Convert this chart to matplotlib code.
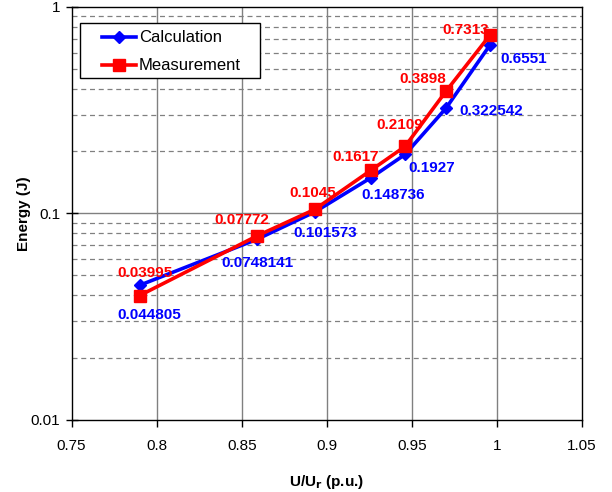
import matplotlib
matplotlib.use("Agg")
import matplotlib.pyplot as plt
from matplotlib.ticker import FixedLocator, NullFormatter
from matplotlib.lines import Line2D
from matplotlib.patches import Rectangle

plt.rcParams['font.family'] = ['Liberation Sans', 'DejaVu Sans']

x_vals = [0.790, 0.859, 0.893, 0.926, 0.946, 0.970, 0.996]
calc = [0.044805, 0.0748141, 0.101573, 0.148736, 0.1927, 0.322542, 0.6551]
meas = [0.03995, 0.07772, 0.1045, 0.1617, 0.2109, 0.3898, 0.7313]
calc_labels = ["0.044805", "0.0748141", "0.101573", "0.148736", "0.1927", "0.322542", "0.6551"]
meas_labels = ["0.03995", "0.07772", "0.1045", "0.1617", "0.2109", "0.3898", "0.7313"]
series_names = ["Calculation", "Measurement"]
x_ticks = [0.75, 0.8, 0.85, 0.9, 0.95, 1.0, 1.05]
x_tick_labels = ["0.75", "0.8", "0.85", "0.9", "0.95", "1", "1.05"]
y_ticks = [0.01, 0.1, 1]
y_tick_labels = ["0.01", "0.1", "1"]

# label offsets in pixels (dx, dy; dy positive = down)
calc_off = [(10, 30), (0, 24), (10, 21), (22, 17), (27, 14), (45, 3), (34, 14)]
meas_off = [(5, -23), (-15, -16), (-2, -16), (-15, -13), (-5, -21), (-23, -12), (-24, -5)]

W, H = 612, 492
fig = plt.figure(figsize=(W / 100, H / 100), dpi=100)
ax = fig.add_axes([0.117, 0.147, 0.834, 0.839])
ax.set_yscale('log')
ax.set_xlim(0.75, 1.05)
ax.set_ylim(0.01, 1)

# grid
minor = [m * 10.0 ** e for e in (-2, -1) for m in range(2, 10)]
for v in minor:
    ax.axhline(v, color='#808080', lw=0.9, ls=(0, (4, 3)), zorder=0)
ax.axhline(0.1, color='#808080', lw=1.0, zorder=0)
for xv in x_ticks[1:-1]:
    ax.axvline(xv, color='#808080', lw=1.0, zorder=0)

ax.plot(x_vals, calc, color='#0000FF', lw=2.6, marker='D', ms=6.5, zorder=3)
ax.plot(x_vals, meas, color='#FF0000', lw=2.6, marker='s', ms=8.5, zorder=4)

for xv, yv, lab, (dx, dy) in zip(x_vals, calc, calc_labels, calc_off):
    ax.annotate(lab, (xv, yv), xytext=(dx * 0.72, -dy * 0.72), textcoords='offset points',
                ha='center', va='center', color='#0000FF', fontsize=11, fontweight='bold', zorder=5)
for xv, yv, lab, (dx, dy) in zip(x_vals, meas, meas_labels, meas_off):
    ax.annotate(lab, (xv, yv), xytext=(dx * 0.72, -dy * 0.72), textcoords='offset points',
                ha='center', va='center', color='#FF0000', fontsize=11, fontweight='bold', zorder=5)

ax.xaxis.set_major_locator(FixedLocator(x_ticks))
ax.set_xticklabels(x_tick_labels)
ax.yaxis.set_major_locator(FixedLocator(y_ticks))
ax.set_yticklabels(y_tick_labels)
ax.yaxis.set_minor_locator(FixedLocator([]))
ax.yaxis.set_minor_formatter(NullFormatter())
ax.tick_params(axis='both', labelsize=11, width=1)
ax.tick_params(axis='x', direction='out', length=5, pad=9)
ax.tick_params(axis='y', direction='inout', length=8, pad=4)

for s in ax.spines.values():
    s.set_linewidth(1.0)
    s.set_color('black')

ax.set_xlabel(r'U/U$_\mathbf{r}$ (p.u.)', fontsize=11, fontweight='bold', labelpad=14)
ax.set_ylabel('Energy (J)', fontsize=11, fontweight='bold', labelpad=0)

# legend drawn manually (pixel layout)
def fx(px):
    return px / W

def fy(py):
    return 1 - py / H

fig.add_artist(Rectangle((fx(80), fy(78)), fx(260) - fx(80), fy(23) - fy(78),
                         transform=fig.transFigure, facecolor='white', edgecolor='black',
                         lw=1.0, zorder=6))
styles = [('#0000FF', 'D', 6.0), ('#FF0000', 's', 8.0)]
for (col, mk, ms), name, py in zip(styles, series_names, [37, 65]):
    fig.add_artist(Line2D([fx(102), fx(136)], [fy(py), fy(py)], transform=fig.transFigure,
                          color=col, lw=2.6, zorder=7))
    fig.add_artist(Line2D([fx(119)], [fy(py)], transform=fig.transFigure, color=col,
                          marker=mk, ms=ms, lw=0, zorder=8))
    fig.text(fx(139), fy(py), name, fontsize=12, ha='left', va='center', zorder=8)

fig.savefig('out.png', dpi=100)
